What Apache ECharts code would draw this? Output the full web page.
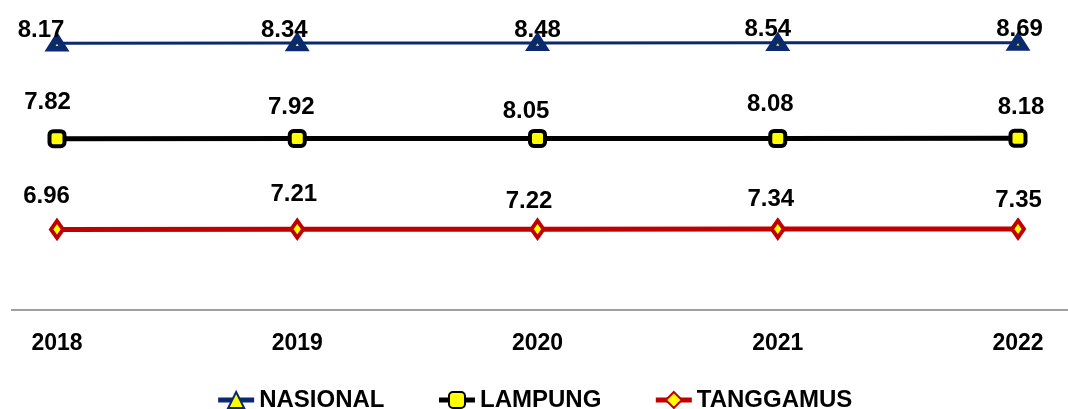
<!DOCTYPE html>
<html>
<head>
<meta charset="utf-8">
<script src="https://cdn.jsdelivr.net/npm/echarts@6/dist/echarts.min.js"></script>
<style>
  html, body { margin: 0; padding: 0; background: #fff; }
  #chart { width: 1068px; height: 409px; }
</style>
</head>
<body>
<div id="chart"></div>
<script>
// Years and series values
const years = ['2018', '2019', '2020', '2021', '2022'];
const nasional = [8.17, 8.34, 8.48, 8.54, 8.69];
const lampung = [7.82, 7.92, 8.05, 8.08, 8.18];
const tanggamus = [6.96, 7.21, 7.22, 7.34, 7.35];

// Label nudges [dx, dy] from each point's centre
const nasionalLabelShift = [[-16, -13], [-13, -13], [0, -13], [-10, -13], [1.5, -13]];
const lampungLabelShift = [[-9.5, -36], [-6, -31], [-11.5, -27], [-7.5, -34], [3, -31]];
const tanggamusLabelShift = [[-10.5, -33], [-3.5, -35], [-8.5, -28], [-7, -30], [0.5, -29]];

const FONT = "'Liberation Sans', Arial, sans-serif";

function points(values, shifts) {
  return values.map((v, i) => ({
    value: v,
    label: { offset: shifts[i] }
  }));
}

const labelStyle = {
  show: true,
  position: 'inside',
  align: 'center',
  verticalAlign: 'middle',
  fontFamily: FONT,
  fontWeight: 'bold',
  fontSize: 24,
  color: '#000',
  formatter: p => p.value.toFixed(2)
};

const chart = echarts.init(document.getElementById('chart'), null, { renderer: 'canvas' });

chart.setOption({
  animation: false,
  backgroundColor: '#fff',
  grid: { left: 57, right: 50, top: 0, bottom: 99 },
  xAxis: {
    type: 'category',
    data: years,
    boundaryGap: false,
    axisLine: { show: false },
    axisTick: { show: false },
    axisLabel: {
      margin: 22,
      fontFamily: FONT,
      fontWeight: 'bold',
      fontSize: 23,
      color: '#000'
    }
  },
  // one hidden value scale per series, each wide enough to keep its line level
  yAxis: [
    { type: 'value', min: -250, max: 50, show: false },
    { type: 'value', min: -158, max: 142, show: false },
    { type: 'value', min: -71, max: 229, show: false }
  ],
  legend: {
    bottom: -8,
    left: 'center',
    itemWidth: 36,
    itemHeight: 20,
    itemGap: 52,
    textStyle: {
      fontFamily: FONT,
      fontWeight: 'bold',
      fontSize: 24,
      color: '#000'
    },
    data: [
      { name: 'NASIONAL', lineStyle: { width: 5 } },
      { name: 'LAMPUNG', lineStyle: { width: 5 } },
      { name: 'TANGGAMUS', lineStyle: { width: 5 } }
    ]
  },
  graphic: [{
    type: 'line',
    shape: { x1: 11, y1: 310, x2: 1068, y2: 310 },
    style: { stroke: '#A0A0A0', lineWidth: 2 },
    z: 1
  }],
  series: [
    {
      name: 'NASIONAL',
      type: 'line',
      yAxisIndex: 0,
      data: points(nasional, nasionalLabelShift),
      symbol: 'triangle',
      symbolSize: [14, 11],
      lineStyle: { color: '#0B2A6E', width: 3 },
      itemStyle: { color: '#FFFF00', borderColor: '#0B2A6E', borderWidth: 6 },
      label: labelStyle,
      z: 5
    },
    {
      name: 'LAMPUNG',
      type: 'line',
      yAxisIndex: 1,
      data: points(lampung, lampungLabelShift),
      symbol: 'roundRect',
      symbolSize: 15,
      lineStyle: { color: '#000', width: 5 },
      itemStyle: { color: '#FFFF00', borderColor: '#000', borderWidth: 4 },
      label: labelStyle,
      z: 4
    },
    {
      name: 'TANGGAMUS',
      type: 'line',
      yAxisIndex: 2,
      data: points(tanggamus, tanggamusLabelShift),
      symbol: 'diamond',
      symbolSize: [12, 17],
      lineStyle: { color: '#C00000', width: 5 },
      itemStyle: { color: '#FFFF00', borderColor: '#C00000', borderWidth: 4 },
      label: labelStyle,
      z: 3
    }
  ]
});
</script>
</body>
</html>
